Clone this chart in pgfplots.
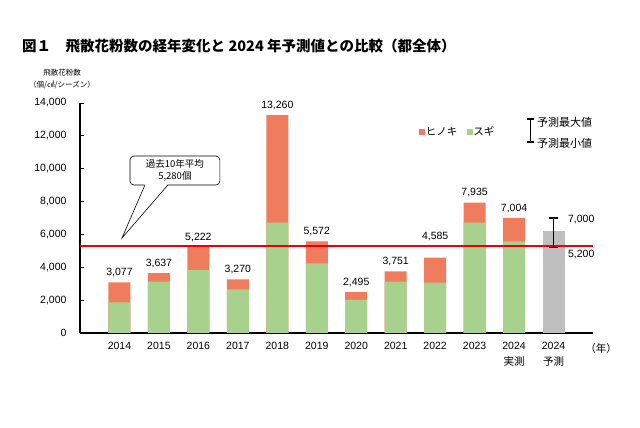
\documentclass[border=0pt]{standalone}
\usepackage{fontspec}
\setmainfont{Liberation Sans}
\newfontfamily\jp{Noto Sans CJK JP}
\usepackage{pgfplots}
\pgfplotsset{compat=1.18}
\usepackage{pgfplotstable}

\definecolor{sugi}{RGB}{169,209,142}
\definecolor{hinoki}{RGB}{240,124,94}
\definecolor{yosoku}{RGB}{191,191,191}
\definecolor{heikin}{RGB}{230,0,18}

% total = hinoki + sugi (stacked), sugi
\pgfplotstableread{
x total sugi
0 3077 1870
1 3637 3120
2 5222 3830
3 3270 2660
4 13260 6720
5 5572 4240
6 2495 2010
7 3751 3120
8 4585 3060
9 7935 6720
10 7004 5580
}\pollen

\begin{document}
\begin{tikzpicture}[/pgf/number format/assume math mode=true]
\path[use as bounding box] (0,0) rectangle (640pt,428pt);
\begin{axis}[
  at={(80pt,95pt)}, anchor=south west,
  scale only axis, width=513pt, height=230pt,
  xmin=-1, xmax=12, ymin=0, ymax=14000,
  /pgf/number format/assume math mode=true,
  axis lines=left,
  axis line style={-, line width=1.2pt, black},
  ytick={0,2000,...,14000}, scaled y ticks=false,
  xtick={0,...,11},
  xticklabels={2014,2015,2016,2017,2018,2019,2020,2021,2022,2023,{2024\\{\jp 実測}},{2024\\{\jp 予測}}},
  x tick style={draw=none},
  y tick style={black, line width=0.8pt},
  tick align=inside, major tick length=4pt,
  y tick label style={font=\fontsize{10.5}{12}\selectfont, xshift=-10pt},
  x tick label style={font=\fontsize{10.5}{16}\selectfont, align=center, yshift=-6pt},
  clip=false,
  legend style={at={(0.735,0.874)}, anchor=center, draw=none, fill=none,
    legend columns=2, font=\jp\fontsize{10.5}{12}\selectfont,
    nodes={inner sep=0.5pt},
    /tikz/every even column/.append style={column sep=9pt}},
  legend image code/.code={\fill[#1] (0pt,-3pt) rectangle (6pt,3pt);},
]
\addplot[ybar, bar width=0.557, bar shift=0pt, fill=hinoki, draw=none,
  nodes near coords,
  every node near coord/.append style={font=\fontsize{10.5}{12}\selectfont, black, yshift=2pt},
  coordinate style/.condition={x==8}{yshift=11pt}]
  table[x=x, y=total] {\pollen};
\addlegendentry{ヒノキ}
\addplot[ybar, bar width=0.557, bar shift=0pt, fill=sugi, draw=none]
  table[x=x, y=sugi] {\pollen};
\addlegendentry{スギ}
\addplot[ybar, bar width=0.557, bar shift=0pt, fill=yosoku, draw=none, forget plot]
  coordinates {(11,6200)};
\addplot[heikin, line width=2pt, forget plot] coordinates {(-1,5280) (12,5280)};
\addplot[black, forget plot, line width=1.4pt,
  error bars/.cd, y dir=both, y explicit, error mark=-,
  error bar style={line width=1.4pt, black},
  error mark options={black, mark size=4.5pt, line width=1.4pt, rotate=90}]
  coordinates {(11,6100) +- (0,900)};

\node[anchor=west, font=\fontsize{10.5}{12}\selectfont] at (axis cs:11.28,6880) {7,000};
\node[anchor=west, font=\fontsize{10.5}{12}\selectfont] at (axis cs:11.28,4800) {5,200};

% callout
\draw[fill=white, rounded corners=4pt, line width=0.6pt]
  (axis cs:0.266,9008) rectangle (axis cs:2.544,10773);
\fill[white] (axis cs:0.646,9080) -- (axis cs:0.063,5782) -- (axis cs:1.228,9080) -- cycle;
\draw[line width=0.6pt] (axis cs:0.646,9008) -- (axis cs:0.063,5782) -- (axis cs:1.228,9008);
\node[align=center, font=\jp\fontsize{9.5}{12.5}\selectfont] at (axis cs:1.405,9890)
  {過去10年平均\\5,280個};
\end{axis}

\node[anchor=west, inner sep=0, font=\jp\bfseries\fontsize{14.5}{16}\selectfont]
  at (22pt,382pt) {図１　飛散花粉数の経年変化と 2024 年予測値との比較（都全体）};
\node[align=center, font=\jp\fontsize{7.5}{12}\selectfont] at (62pt,349pt)
  {飛散花粉数\\（個/㎠/シーズン）};
\node[font=\jp\fontsize{10.5}{12}\selectfont] at (601pt,79pt) {（年）};

\draw[line width=1.3pt] (527pt,309pt) -- (534pt,309pt);
\draw[line width=1.3pt] (530.5pt,309pt) -- (530.5pt,286pt);
\draw[line width=1.3pt] (527pt,286pt) -- (534pt,286pt);
\node[anchor=west, inner sep=0, font=\jp\fontsize{11}{13}\selectfont] at (537pt,306pt) {予測最大値};
\node[anchor=west, inner sep=0, font=\jp\fontsize{11}{13}\selectfont] at (537pt,285pt) {予測最小値};
\end{tikzpicture}
\end{document}
